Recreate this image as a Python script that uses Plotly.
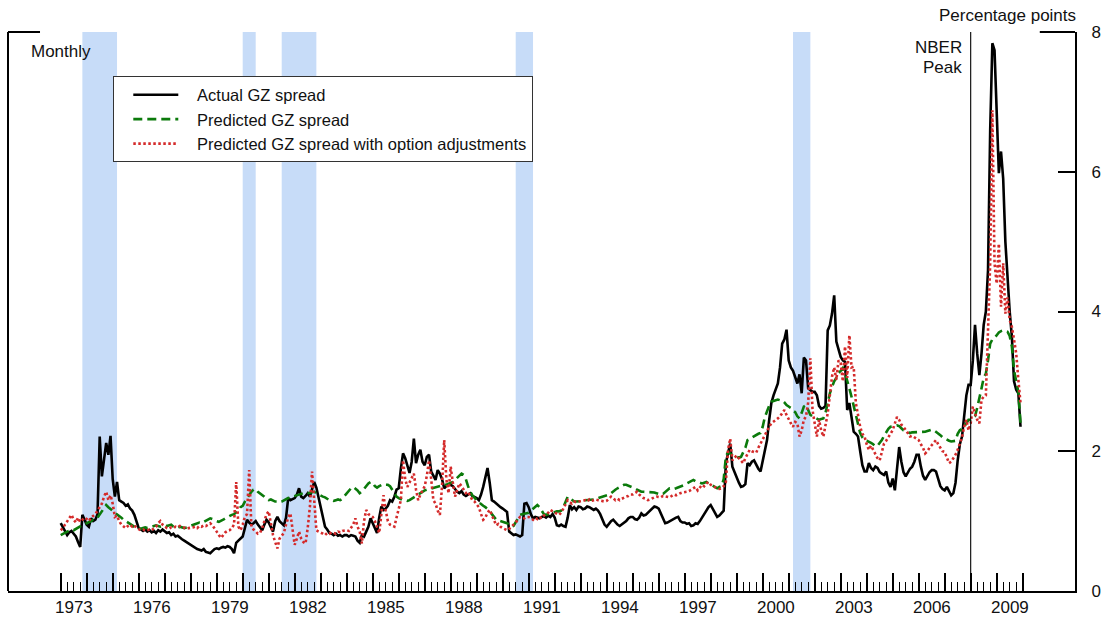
import numpy as np
import plotly.graph_objects as go

# ---------------------------------------------------------------
# Monthly GZ credit spread, percentage points, 1973:01 - 2009:12
# one row of 12 monthly values per year
# ---------------------------------------------------------------
START_YEAR = 1973

actual_gz = [
    [0.97, 0.92, 0.86, 0.80, 0.84, 0.86, 0.82, 0.78, 0.70, 0.63, 1.09, 1.02],  # 1973
    [0.95, 0.92, 1.04, 1.00, 1.02, 1.10, 2.21, 1.64, 1.90, 2.12, 1.95, 2.22],  # 1974
    [1.60, 1.35, 1.56, 1.30, 1.28, 1.26, 1.22, 1.24, 1.18, 1.15, 1.09, 1.00],  # 1975
    [0.90, 0.88, 0.86, 0.88, 0.85, 0.87, 0.84, 0.86, 0.83, 0.87, 0.85, 0.88],  # 1976
    [0.86, 0.83, 0.84, 0.80, 0.82, 0.78, 0.79, 0.76, 0.74, 0.72, 0.70, 0.68],  # 1977
    [0.65, 0.63, 0.62, 0.60, 0.59, 0.58, 0.60, 0.56, 0.55, 0.54, 0.57, 0.60],  # 1978
    [0.61, 0.60, 0.62, 0.63, 0.62, 0.64, 0.63, 0.60, 0.54, 0.69, 0.72, 0.75],  # 1979
    [0.78, 0.90, 1.02, 0.98, 0.95, 0.97, 1.00, 0.95, 0.90, 0.87, 0.95, 1.02],  # 1980
    [0.98, 0.90, 0.85, 1.00, 1.06, 1.00, 0.97, 0.94, 1.05, 1.33, 1.30, 1.32],  # 1981
    [1.33, 1.38, 1.47, 1.35, 1.33, 1.36, 1.40, 1.35, 1.45, 1.56, 1.48, 1.35],  # 1982
    [1.20, 1.05, 0.92, 0.88, 0.83, 0.82, 0.80, 0.82, 0.79, 0.80, 0.78, 0.80],  # 1983
    [0.80, 0.78, 0.80, 0.79, 0.78, 0.72, 0.69, 0.80, 0.78, 0.85, 0.92, 1.04],  # 1984
    [0.97, 0.90, 0.83, 1.05, 1.21, 1.16, 1.18, 1.22, 1.30, 1.28, 1.35, 1.45],  # 1985
    [1.47, 1.75, 1.97, 1.90, 1.80, 1.69, 1.85, 2.18, 1.83, 1.95, 2.02, 1.85],  # 1986
    [1.80, 1.92, 1.95, 1.71, 1.65, 1.59, 1.73, 1.68, 1.60, 1.47, 1.50, 1.52],  # 1987
    [1.52, 1.50, 1.46, 1.42, 1.40, 1.43, 1.38, 1.36, 1.38, 1.40, 1.36, 1.35],  # 1988
    [1.33, 1.30, 1.38, 1.49, 1.62, 1.76, 1.55, 1.30, 1.28, 1.25, 1.22, 1.20],  # 1989
    [1.18, 1.15, 1.13, 0.85, 0.82, 0.80, 0.81, 0.79, 0.78, 0.80, 1.25, 1.26],  # 1990
    [1.20, 1.10, 1.04, 1.06, 1.05, 1.04, 1.06, 1.07, 1.05, 1.08, 1.06, 1.10],  # 1991
    [1.05, 0.94, 0.93, 0.95, 0.93, 0.92, 1.05, 1.23, 1.17, 1.20, 1.16, 1.21],  # 1992
    [1.20, 1.17, 1.18, 1.21, 1.20, 1.18, 1.16, 1.18, 1.15, 1.10, 1.02, 0.95],  # 1993
    [0.92, 0.96, 1.00, 1.02, 0.98, 0.95, 0.93, 0.95, 0.98, 1.00, 1.04, 1.06],  # 1994
    [1.06, 1.03, 1.02, 1.05, 1.11, 1.08, 1.09, 1.12, 1.15, 1.18, 1.21, 1.20],  # 1995
    [1.18, 1.11, 1.05, 0.97, 0.98, 1.00, 1.02, 1.04, 1.05, 1.06, 1.00, 0.98],  # 1996
    [0.98, 0.96, 0.97, 0.93, 0.94, 0.97, 0.96, 1.00, 1.05, 1.11, 1.15, 1.20],  # 1997
    [1.23, 1.18, 1.12, 1.06, 1.08, 1.12, 1.15, 1.83, 2.00, 2.11, 1.78, 1.70],  # 1998
    [1.62, 1.55, 1.49, 1.50, 1.53, 1.83, 1.80, 1.85, 1.87, 1.80, 1.75, 1.71],  # 1999
    [1.85, 2.00, 2.16, 2.45, 2.69, 2.80, 2.88, 2.97, 3.20, 3.54, 3.60, 3.74],  # 2000
    [3.30, 3.20, 3.15, 3.05, 2.97, 3.10, 2.83, 3.34, 3.30, 2.90, 2.88, 2.85],  # 2001
    [2.85, 2.80, 2.65, 2.61, 2.62, 2.65, 3.73, 3.80, 3.97, 4.23, 3.57, 3.45],  # 2002
    [3.35, 3.30, 3.28, 2.59, 2.69, 2.49, 2.28, 2.25, 2.21, 2.00, 1.80, 1.71],  # 2003
    [1.71, 1.83, 1.76, 1.73, 1.78, 1.76, 1.70, 1.68, 1.66, 1.71, 1.55, 1.49],  # 2004
    [1.61, 1.44, 1.75, 2.06, 1.85, 1.70, 1.64, 1.70, 1.75, 1.78, 1.85, 1.95],  # 2005
    [1.95, 1.78, 1.65, 1.59, 1.65, 1.70, 1.73, 1.73, 1.71, 1.59, 1.50, 1.46],  # 2006
    [1.44, 1.49, 1.42, 1.37, 1.40, 1.55, 1.87, 2.10, 2.21, 2.50, 2.80, 2.95],  # 2007
    [2.95, 3.30, 3.81, 3.40, 3.09, 3.40, 3.81, 4.00, 4.59, 6.60, 7.84, 7.74],  # 2008
    [6.80, 5.98, 6.29, 5.90, 5.00, 4.40, 4.00, 3.64, 3.00, 2.88, 2.83, 2.35],  # 2009
]

predicted_gz = [
    [0.80, 0.82, 0.84, 0.85, 0.86, 0.88, 0.87, 0.89, 0.90, 0.92, 0.94, 0.96],  # 1973
    [0.97, 0.98, 1.00, 1.02, 1.02, 1.05, 1.10, 1.15, 1.18, 1.23, 1.20, 1.18],  # 1974
    [1.15, 1.12, 1.10, 1.08, 1.05, 1.02, 1.00, 0.98, 0.95, 0.93, 0.92, 0.90],  # 1975
    [0.90, 0.89, 0.90, 0.91, 0.90, 0.91, 0.92, 0.93, 0.94, 0.93, 0.92, 0.93],  # 1976
    [0.94, 0.93, 0.94, 0.95, 0.92, 0.91, 0.90, 0.92, 0.91, 0.90, 0.91, 0.92],  # 1977
    [0.93, 0.94, 0.95, 0.97, 0.98, 0.97, 0.99, 1.01, 1.03, 1.04, 1.03, 1.01],  # 1978
    [1.00, 0.99, 1.00, 1.02, 1.04, 1.06, 1.08, 1.09, 1.10, 1.12, 1.15, 1.20],  # 1979
    [1.22, 1.28, 1.33, 1.38, 1.42, 1.45, 1.46, 1.42, 1.40, 1.38, 1.35, 1.32],  # 1980
    [1.30, 1.31, 1.29, 1.28, 1.28, 1.27, 1.28, 1.30, 1.32, 1.33, 1.34, 1.35],  # 1981
    [1.35, 1.36, 1.37, 1.38, 1.40, 1.41, 1.40, 1.41, 1.42, 1.42, 1.40, 1.38],  # 1982
    [1.36, 1.35, 1.34, 1.32, 1.30, 1.30, 1.29, 1.30, 1.31, 1.30, 1.32, 1.36],  # 1983
    [1.40, 1.44, 1.47, 1.49, 1.47, 1.44, 1.40, 1.42, 1.46, 1.50, 1.54, 1.56],  # 1984
    [1.55, 1.50, 1.48, 1.50, 1.52, 1.53, 1.52, 1.52, 1.50, 1.45, 1.38, 1.35],  # 1985
    [1.33, 1.31, 1.30, 1.30, 1.29, 1.30, 1.32, 1.34, 1.37, 1.39, 1.41, 1.43],  # 1986
    [1.44, 1.45, 1.46, 1.47, 1.48, 1.49, 1.50, 1.50, 1.51, 1.52, 1.52, 1.53],  # 1987
    [1.54, 1.56, 1.59, 1.62, 1.65, 1.68, 1.66, 1.60, 1.50, 1.42, 1.37, 1.33],  # 1988
    [1.30, 1.27, 1.24, 1.22, 1.20, 1.18, 1.15, 1.10, 1.05, 1.02, 1.01, 1.00],  # 1989
    [1.00, 0.99, 0.97, 0.95, 0.92, 0.93, 0.98, 1.05, 1.09, 1.10, 1.11, 1.12],  # 1990
    [1.12, 1.15, 1.18, 1.21, 1.23, 1.20, 1.15, 1.10, 1.09, 1.10, 1.12, 1.13],  # 1991
    [1.13, 1.14, 1.14, 1.15, 1.20, 1.28, 1.35, 1.33, 1.30, 1.28, 1.28, 1.28],  # 1992
    [1.28, 1.29, 1.30, 1.30, 1.30, 1.30, 1.31, 1.32, 1.33, 1.34, 1.35, 1.35],  # 1993
    [1.36, 1.38, 1.40, 1.43, 1.45, 1.47, 1.49, 1.51, 1.52, 1.52, 1.51, 1.49],  # 1994
    [1.49, 1.47, 1.45, 1.43, 1.42, 1.42, 1.42, 1.41, 1.42, 1.42, 1.41, 1.40],  # 1995
    [1.39, 1.38, 1.39, 1.42, 1.45, 1.47, 1.47, 1.46, 1.47, 1.48, 1.49, 1.50],  # 1996
    [1.52, 1.54, 1.56, 1.58, 1.59, 1.57, 1.56, 1.55, 1.54, 1.55, 1.56, 1.54],  # 1997
    [1.52, 1.50, 1.48, 1.47, 1.49, 1.50, 1.60, 1.92, 1.99, 1.97, 1.94, 1.92],  # 1998
    [1.92, 1.91, 1.92, 1.98, 2.05, 2.16, 2.18, 2.20, 2.22, 2.24, 2.25, 2.26],  # 1999
    [2.35, 2.49, 2.58, 2.65, 2.71, 2.72, 2.73, 2.74, 2.73, 2.73, 2.70, 2.66],  # 2000
    [2.64, 2.62, 2.58, 2.56, 2.50, 2.47, 2.55, 2.64, 2.66, 2.58, 2.52, 2.50],  # 2001
    [2.48, 2.46, 2.45, 2.46, 2.47, 2.55, 2.70, 2.83, 2.92, 3.00, 3.05, 3.12],  # 2002
    [3.15, 3.19, 3.12, 3.02, 2.90, 2.78, 2.66, 2.52, 2.38, 2.26, 2.20, 2.16],  # 2003
    [2.15, 2.14, 2.12, 2.10, 2.07, 2.08, 2.12, 2.16, 2.22, 2.28, 2.32, 2.35],  # 2004
    [2.35, 2.36, 2.37, 2.36, 2.33, 2.30, 2.29, 2.28, 2.26, 2.27, 2.27, 2.28],  # 2005
    [2.28, 2.28, 2.27, 2.28, 2.29, 2.30, 2.31, 2.30, 2.28, 2.25, 2.23, 2.20],  # 2006
    [2.18, 2.16, 2.15, 2.14, 2.14, 2.15, 2.25, 2.30, 2.32, 2.35, 2.40, 2.45],  # 2007
    [2.45, 2.48, 2.50, 2.62, 2.74, 2.90, 3.05, 3.11, 3.30, 3.54, 3.60, 3.62],  # 2008
    [3.66, 3.70, 3.72, 3.73, 3.72, 3.71, 3.65, 3.50, 3.16, 3.00, 2.85, 2.40],  # 2009
]

predicted_gz_option_adj = [
    [0.87, 0.90, 0.95, 1.00, 1.05, 1.09, 1.02, 0.98, 1.05, 0.99, 1.02, 1.05],  # 1973
    [1.03, 1.00, 1.05, 1.08, 1.10, 1.15, 1.20, 1.25, 1.35, 1.42, 1.30, 1.37],  # 1974
    [1.25, 1.06, 1.08, 1.00, 0.95, 0.92, 0.90, 0.93, 0.95, 0.92, 0.94, 0.90],  # 1975
    [0.88, 0.87, 0.88, 0.86, 0.87, 0.88, 0.87, 0.89, 0.92, 0.97, 1.00, 0.95],  # 1976
    [0.92, 0.90, 0.89, 0.91, 0.90, 0.92, 0.91, 0.93, 0.92, 0.90, 0.89, 0.90],  # 1977
    [0.90, 0.91, 0.92, 0.90, 0.93, 0.92, 0.94, 0.93, 0.95, 0.97, 0.94, 0.90],  # 1978
    [0.85, 0.80, 0.76, 0.80, 0.84, 0.86, 0.87, 0.90, 0.95, 1.56, 0.92, 0.87],  # 1979
    [0.95, 1.06, 1.10, 1.73, 0.92, 0.88, 0.85, 0.82, 0.83, 0.90, 1.00, 1.10],  # 1980
    [1.14, 0.95, 0.80, 0.70, 0.61, 0.75, 0.80, 0.83, 0.95, 1.05, 1.11, 0.85],  # 1981
    [0.66, 0.75, 0.85, 0.75, 0.70, 0.68, 0.90, 1.20, 1.71, 1.30, 0.87, 0.85],  # 1982
    [0.84, 0.82, 0.80, 0.83, 0.82, 0.84, 0.83, 0.82, 0.85, 0.84, 0.86, 0.87],  # 1983
    [0.87, 0.86, 0.90, 0.95, 1.04, 0.92, 0.85, 0.68, 1.00, 1.16, 1.10, 1.08],  # 1984
    [1.06, 1.00, 0.90, 0.83, 1.10, 1.37, 1.15, 1.00, 0.95, 0.93, 0.92, 1.05],  # 1985
    [1.20, 1.30, 1.87, 1.60, 1.49, 1.55, 1.60, 1.68, 1.45, 1.30, 1.38, 1.44],  # 1986
    [1.50, 1.65, 1.87, 1.60, 1.30, 1.25, 1.15, 1.09, 1.50, 2.16, 1.60, 1.40],  # 1987
    [1.78, 1.55, 1.35, 1.45, 1.54, 1.50, 1.45, 1.40, 1.42, 1.36, 1.30, 1.28],  # 1988
    [1.24, 1.20, 1.10, 1.02, 1.05, 1.12, 1.16, 1.08, 1.00, 0.94, 0.96, 0.92],  # 1989
    [0.90, 0.88, 0.87, 0.89, 0.92, 0.94, 0.98, 1.02, 1.06, 1.05, 1.04, 1.06],  # 1990
    [1.06, 1.04, 1.02, 1.05, 1.03, 1.06, 1.04, 1.08, 1.10, 1.12, 1.16, 1.14],  # 1991
    [1.12, 1.10, 1.09, 1.12, 1.18, 1.24, 1.30, 1.27, 1.25, 1.28, 1.27, 1.28],  # 1992
    [1.28, 1.29, 1.30, 1.28, 1.31, 1.29, 1.30, 1.31, 1.30, 1.29, 1.28, 1.28],  # 1993
    [1.29, 1.32, 1.35, 1.33, 1.30, 1.32, 1.30, 1.32, 1.34, 1.35, 1.36, 1.38],  # 1994
    [1.38, 1.40, 1.42, 1.38, 1.35, 1.33, 1.32, 1.30, 1.31, 1.33, 1.34, 1.35],  # 1995
    [1.35, 1.34, 1.36, 1.35, 1.35, 1.34, 1.36, 1.38, 1.37, 1.39, 1.40, 1.41],  # 1996
    [1.41, 1.42, 1.43, 1.45, 1.47, 1.49, 1.44, 1.48, 1.52, 1.50, 1.54, 1.56],  # 1997
    [1.52, 1.50, 1.48, 1.47, 1.46, 1.47, 1.50, 1.56, 2.02, 2.18, 1.87, 1.90],  # 1998
    [1.94, 1.90, 1.87, 1.83, 1.90, 1.97, 2.02, 2.00, 1.99, 1.98, 2.05, 2.11],  # 1999
    [2.18, 2.25, 2.30, 2.35, 2.40, 2.42, 2.45, 2.47, 2.50, 2.55, 2.59, 2.52],  # 2000
    [2.45, 2.40, 2.35, 2.42, 2.40, 2.21, 2.30, 2.45, 2.50, 2.70, 3.33, 2.59],  # 2001
    [2.40, 2.21, 2.45, 2.30, 2.21, 2.35, 2.54, 2.80, 3.07, 3.20, 3.02, 3.30],  # 2002
    [3.26, 3.00, 3.50, 3.05, 3.66, 3.20, 3.21, 2.69, 2.50, 2.35, 2.25, 2.21],  # 2003
    [2.10, 2.02, 2.08, 2.02, 1.95, 1.90, 1.87, 2.00, 2.11, 2.15, 2.20, 2.26],  # 2004
    [2.30, 2.40, 2.49, 2.45, 2.38, 2.35, 2.30, 2.25, 2.21, 2.22, 2.20, 2.18],  # 2005
    [2.16, 2.10, 2.05, 1.97, 2.00, 2.05, 2.09, 2.12, 2.16, 2.10, 2.05, 2.00],  # 2006
    [1.99, 1.90, 1.83, 1.85, 1.90, 1.95, 2.02, 2.10, 2.20, 2.35, 2.45, 2.30],  # 2007
    [2.40, 2.64, 2.55, 2.45, 2.40, 2.74, 2.78, 2.80, 3.73, 4.69, 6.88, 4.69],  # 2008
    [4.40, 4.97, 4.07, 4.69, 3.97, 4.20, 3.88, 3.78, 3.60, 3.40, 3.02, 2.69],  # 2009
]

# NBER recessions (peak month start, trough month start) in decimal years
recession_start = [1973 + 10 / 12, 1980 + 0 / 12, 1981 + 6 / 12, 1990 + 6 / 12, 2001 + 2 / 12]
recession_end = [1975 + 2 / 12, 1980 + 6 / 12, 1982 + 10 / 12, 1991 + 2 / 12, 2001 + 10 / 12]

# NBER business-cycle peak, end of 2007:12
nber_peak = 2007 + 12 / 12

series_names = [
    "Actual GZ spread",
    "Predicted GZ spread",
    "Predicted GZ spread with option adjustments",
]

year_labels = list(range(1973, 2010, 3))
major_ticks = list(range(1973, 2011))
minor_ticks = [y + q / 4 for y in range(1973, 2010) for q in (1, 2, 3)]
y_ticks = [0, 2, 4, 6, 8]

# ---------------------------------------------------------------
FONT = "Liberation Sans, Arial, Helvetica, sans-serif"
FS = 17
INK = "#111111"
GAP = "\u00a0" * 3   # space between legend key and label


def flat(rows):
    return np.array([v for row in rows for v in row], dtype=float)


s_actual = flat(actual_gz)
s_pred = flat(predicted_gz)
s_opt = flat(predicted_gz_option_adj)
t = START_YEAR + np.arange(len(s_actual)) / 12.0

fig = go.Figure()
fig.add_trace(go.Scatter(x=t, y=s_actual, mode="lines", name=GAP + series_names[0],
                         line=dict(color="black", width=2.6)))
fig.add_trace(go.Scatter(x=t, y=s_pred, mode="lines", name=GAP + series_names[1],
                         line=dict(color="#0b7a0b", width=2.6, dash="9px,5px")))
fig.add_trace(go.Scatter(x=t, y=s_opt, mode="lines", name=GAP + series_names[2],
                         line=dict(color="#d42a2a", width=2.6, dash="2.5px,2.5px")))

# recession shading
for a, b in zip(recession_start, recession_end):
    fig.add_shape(type="rect", xref="x", yref="paper", x0=a, x1=b, y0=0, y1=1,
                  fillcolor="#c7dcf8", line=dict(width=0), layer="below")

# NBER peak marker
fig.add_shape(type="line", xref="x", yref="paper", x0=nber_peak, x1=nber_peak,
              y0=0, y1=1, line=dict(color="black", width=1.1))

# frame pieces: left edge and the two short top segments
fig.add_shape(type="line", xref="paper", yref="paper", x0=0, x1=0, y0=0, y1=1,
              line=dict(color="black", width=2))
fig.add_shape(type="line", xref="paper", yref="paper", x0=0, x1=0.030, y0=1, y1=1,
              line=dict(color="black", width=2))
fig.add_shape(type="line", xref="paper", yref="paper", x0=0.967, x1=1, y0=1, y1=1,
              line=dict(color="black", width=2))

annotations = [
    dict(text=str(y), x=y + 0.5, xref="x", y=0, yref="paper", yshift=-16,
         showarrow=False, xanchor="center", yanchor="middle",
         font=dict(family=FONT, size=FS, color=INK))
    for y in year_labels
]
annotations += [
    dict(text="Monthly", x=0.0197, xref="paper", y=1, yref="paper", yshift=-19,
         showarrow=False, xanchor="left", yanchor="middle",
         font=dict(family=FONT, size=FS, color=INK)),
    dict(text="Percentage points", x=1, xref="paper", xshift=3, y=1, yref="paper", yshift=17,
         showarrow=False, xanchor="right", yanchor="middle",
         font=dict(family=FONT, size=FS, color=INK)),
    dict(text="NBER", x=nber_peak, xref="x", xshift=-7, y=1, yref="paper", yshift=-15,
         showarrow=False, xanchor="right", yanchor="middle",
         font=dict(family=FONT, size=FS, color=INK)),
    dict(text="Peak", x=nber_peak, xref="x", xshift=-7, y=1, yref="paper", yshift=-35,
         showarrow=False, xanchor="right", yanchor="middle",
         font=dict(family=FONT, size=FS, color=INK)),
]

fig.update_layout(
    width=1102, height=622,
    margin=dict(l=8, r=27, t=32, b=31, pad=0, autoexpand=False),
    paper_bgcolor="white", plot_bgcolor="white",
    font=dict(family=FONT, size=FS, color=INK),
    showlegend=True,
    legend=dict(x=0.0984, y=0.921, xanchor="left", yanchor="top",
                bgcolor="white", bordercolor="#333333", borderwidth=1.3,
                font=dict(family=FONT, size=16.5, color=INK),
                itemwidth=45, indentation=14, tracegroupgap=0),
    annotations=annotations,
    xaxis=dict(range=[1970.973, 2012.012], showgrid=False, zeroline=False,
               automargin=False,
               showline=True, linecolor="black", linewidth=2,
               tickmode="array", tickvals=major_ticks, ticktext=[""] * len(major_ticks),
               ticks="inside", ticklen=18, tickwidth=2, tickcolor="black",
               minor=dict(tickmode="array", tickvals=minor_ticks, ticks="inside",
                          ticklen=9, tickwidth=1.3, tickcolor="black", showgrid=False)),
    yaxis=dict(range=[0, 8], side="right", showgrid=False, zeroline=False,
               automargin=False,
               showline=True, linecolor="black", linewidth=2,
               tickmode="array", tickvals=y_ticks, ticktext=[str(v) for v in y_ticks],
               ticks="inside", ticklen=17, tickwidth=2, tickcolor="black",
               ticklabelstandoff=11,
               tickfont=dict(family=FONT, size=FS, color=INK)),
)

fig.write_html("out.html")
